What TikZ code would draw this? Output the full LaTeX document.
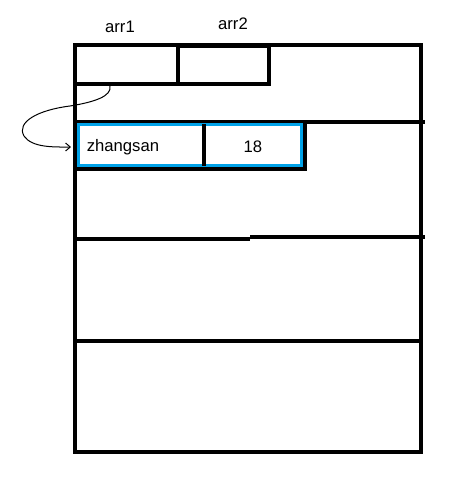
\documentclass[tikz,border=0pt]{standalone}
\usepackage{fontspec}
\setmainfont{Liberation Sans}
\usetikzlibrary{arrows.meta,calc}
\definecolor{paintblue}{HTML}{00A2E8}
\begin{document}
\begin{tikzpicture}[x=0.75pt,y=-0.75pt,
  thick box/.style={draw=black,line width=3pt},
  blue box/.style={draw=paintblue,line width=2.25pt},
  lbl/.style={font=\fontsize{12.5}{14}\selectfont,inner sep=0pt,anchor=base},
  link/.style={line width=0.75pt,-{Straight Barb[length=3.5pt,width=6pt]}}]
\useasboundingbox (0,0) rectangle (460,479);
\fill[white] (0,0) rectangle (460,479);
% outer frame
\draw[thick box] (75,45) rectangle (421,452);
% top cells
\node[thick box,rectangle,inner sep=0pt,minimum width=77.25pt,minimum height=29.25pt] (a1) at (126.5,64.5) {};
\node[thick box,rectangle,inner sep=0pt,minimum width=68.25pt,minimum height=28.5pt] (a2) at (223.5,65) {};
\node[lbl] (t1) at (120,32) {arr1};
\node[lbl] (t2) at (233,29.5) {arr2};
% horizontal separators
\draw[thick box] (75,121.5) -- (425,121.5);
\draw[thick box] (75,239) -- (250,239);
\draw[thick box] (250,237) -- (425,237);
\draw[thick box] (75,340.5) -- (421,340.5);
% record
\node[thick box,rectangle,inner sep=0pt,minimum width=172.5pt,minimum height=35.25pt] (rec) at (190,145) {};
\node[blue box,rectangle,inner sep=0pt,minimum width=167.25pt,minimum height=30.75pt] (recb) at (190,144.5) {};
\draw[thick box] (203.5,124) -- (203.5,166);
\node[lbl,anchor=base west] (name) at (86.5,151.5) {zhangsan};
\node[lbl] (age) at (253,152) {18};
% pointer
\coordinate (ps) at (110,86);
\draw[link] (ps) .. controls (112,96) and (95,102) .. (70,106)
  .. controls (38,110) and (16,122) .. (24,136)
  .. controls (32,148) and (55,147) .. ($(rec.west)+(-2,2)$);
\end{tikzpicture}
\end{document}
